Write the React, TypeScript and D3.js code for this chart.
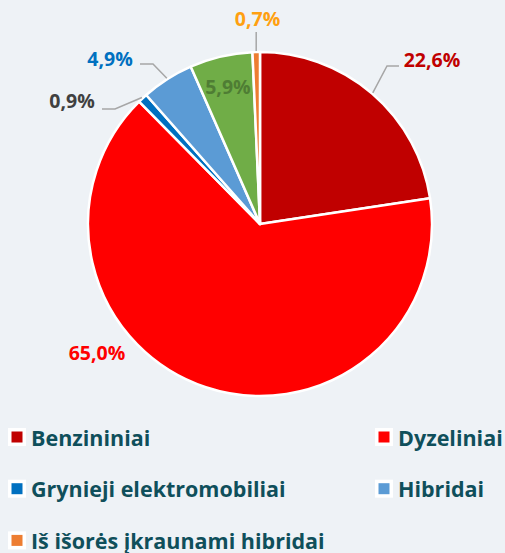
import React from 'react';
import * as d3 from 'd3';

const categories = ['Benzininiai', 'Dyzeliniai', 'Grynieji elektromobiliai', 'Hibridai', 'Kiti', 'Iš išorės įkraunami hibridai'];
const values = [22.6, 65.0, 0.9, 4.9, 5.9, 0.7];
const valueLabels = ['22,6%', '65,0%', '0,9%', '4,9%', '5,9%', '0,7%'];
const sliceColors = ['#c00000', '#ff0000', '#0070c0', '#5b9bd5', '#70ad47', '#ed7d31'];
const labelColors = ['#c00000', '#ff0000', '#404040', '#0070c0', '#4f7d34', '#ffa010'];
const legendOrder = [0, 1, 2, 3, 5];

// label layout (annotation placement)
type Lay = { x?: number; y?: number; kind: 'left' | 'right' | 'none' | 'inside' | 'up'; endX?: number; lineY?: number; r?: number };
const labelLayout: Lay[] = [
  { x: 432, y: 59, kind: 'left', endX: 399, lineY: 66 },
  { x: 97, y: 352, kind: 'none' },
  { x: 72, y: 100.5, kind: 'right', endX: 102, lineY: 109 },
  { x: 110, y: 58.5, kind: 'right', endX: 140, lineY: 64 },
  { kind: 'inside', r: 0.82 },
  { x: 257.5, y: 18.5, kind: 'up', lineY: 32 },
];

const W = 505;
const H = 553;
const cx = 260;
const cy = 224;
const R = 172;
const FONT = '"Open Sans", Lato, sans-serif';

export default function App() {
  const pie = d3.pie<number>().sort(null).value((d) => d)(values);
  const arc = d3.arc<d3.PieArcDatum<number>>().innerRadius(0).outerRadius(R);

  const polar = (a: number, r: number): [number, number] => [cx + r * Math.sin(a), cy - r * Math.cos(a)];

  return (
    <svg width={W} height={H} style={{ position: 'absolute', left: 0, top: 0 }} fontFamily={FONT}>
      <rect width={W} height={H} fill="#eef2f6" />
      <g transform={`translate(${cx},${cy})`}>
        {pie.map((p, i) => (
          <path key={i} d={arc(p) || ''} fill={sliceColors[i]} stroke="#ffffff" strokeWidth={2.5} strokeLinejoin="round" />
        ))}
      </g>
      {pie.map((p, i) => {
        const lay = labelLayout[i];
        const mid = (p.startAngle + p.endAngle) / 2;
        let tx = lay.x ?? 0;
        let ty = lay.y ?? 0;
        let line: string | null = null;
        if (lay.kind === 'inside') {
          [tx, ty] = polar(mid, R * (lay.r ?? 0.8));
        } else if (lay.kind === 'left' || lay.kind === 'right') {
          const [sx, sy] = polar(mid, R + 1);
          const ex = lay.endX ?? 0;
          const ey = lay.lineY ?? 0;
          const elbowX = lay.kind === 'left' ? ex - 12 : ex + 13;
          line = `M${sx},${sy}L${elbowX},${ey}L${ex},${ey}`;
        } else if (lay.kind === 'up') {
          const [sx, sy] = polar(mid, R + 1);
          line = `M${sx},${sy}L${sx},${lay.lineY}`;
        }
        return (
          <g key={i}>
            {line && <path d={line} fill="none" stroke="#a6a6a6" strokeWidth={1.5} />}
            <text x={tx} y={ty} textAnchor="middle" dominantBaseline="central" fontSize={19.5} fontWeight={700} fill={labelColors[i]}>
              {valueLabels[i]}
            </text>
          </g>
        );
      })}
      {legendOrder.map((ci, k) => {
        const col = k % 2;
        const row = Math.floor(k / 2);
        const x0 = col === 0 ? 8 : 375;
        const yc = 437 + row * 51.7;
        return (
          <g key={ci}>
            <rect x={x0} y={yc - 9} width={18} height={18} fill="#ffffff" />
            <rect x={x0 + 3.5} y={yc - 5.5} width={11} height={11} fill={sliceColors[ci]} />
            <text x={x0 + 23} y={yc} dominantBaseline="central" fontSize={21.5} fontWeight={700} fill="#0f4f5b">
              {categories[ci]}
            </text>
          </g>
        );
      })}
    </svg>
  );
}
